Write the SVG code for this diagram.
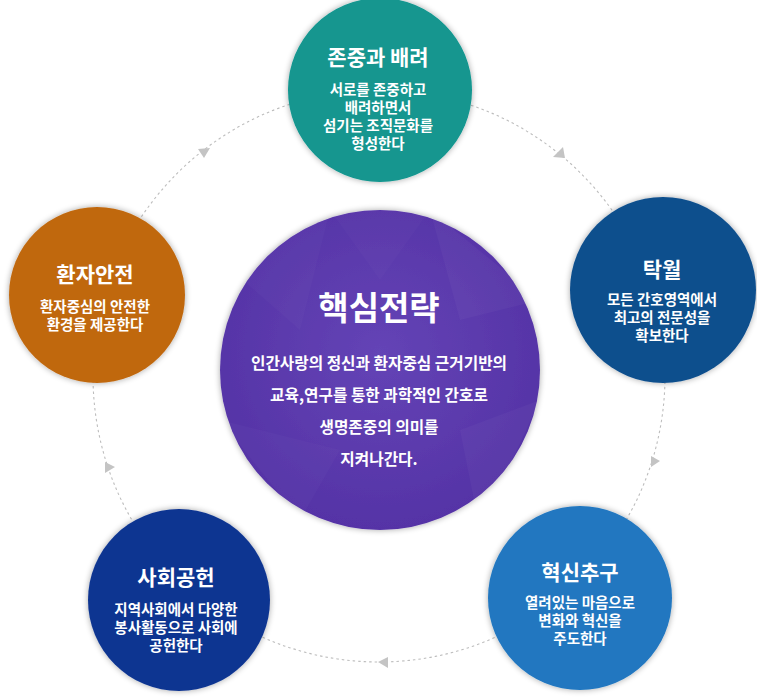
<svg xmlns="http://www.w3.org/2000/svg" width="757" height="699" viewBox="0 0 757 699">
<style>
.t{font-family:"Noto Sans CJK KR","Noto Sans",sans-serif;fill:#fff;text-anchor:middle;dominant-baseline:central}
.h{font-size:21px;font-weight:700}
.b{font-size:14.5px;font-weight:600}
.ch{font-size:33px;font-weight:700}
.cb{font-size:15.7px;font-weight:600}
.ring{fill:none;stroke:#bdbdbd;stroke-width:1.1;stroke-dasharray:2.5 3}
.arr{fill:#c4c4c4}
</style>
<defs>
<filter id="glow" x="-20%" y="-20%" width="140%" height="140%">
<feGaussianBlur in="SourceAlpha" stdDeviation="3"/>
<feComponentTransfer><feFuncA type="linear" slope="0.35"/></feComponentTransfer>
<feMerge><feMergeNode/><feMergeNode in="SourceGraphic"/></feMerge>
</filter>
<radialGradient id="gp" cx="50%" cy="45%" r="55%">
<stop offset="0" stop-color="#6444b6"/>
<stop offset="1" stop-color="#5533a6"/>
</radialGradient>
<clipPath id="cc"><circle cx="380" cy="370" r="160"/></clipPath>
</defs>
<rect width="757" height="699" fill="#fff"/>
<g id="connectors">
<circle class="ring" cx="379" cy="376" r="286"/>
<polygon class="arr" points="198,149 210,148 204,158"/>
<polygon class="arr" points="563,147 553,157 565,158"/>
<polygon class="arr" points="651,456 660,461 651,467"/>
<polygon class="arr" points="378,662 388,657 388,668"/>
<polygon class="arr" points="105,462 115,467 105,473"/>
</g>
<g id="center">
<circle cx="380" cy="370" r="160" fill="url(#gp)" filter="url(#glow)"/>
<g clip-path="url(#cc)" fill="#fff">
<polygon points="220,260 330,210 300,330" opacity="0.025"/>
<polygon points="430,210 540,300 460,320" opacity="0.03"/>
<polygon points="220,420 300,520 340,450" opacity="0.025"/>
<polygon points="460,430 540,400 480,530" opacity="0.03"/>
<polygon points="330,210 430,210 380,280" opacity="0.02"/>
</g>
<text class="t ch" x="379" y="306">핵심전략</text>
<text class="t cb" x="379" y="362">인간사랑의 정신과 환자중심 근거기반의</text>
<text class="t cb" x="379" y="394">교육,연구를 통한 과학적인 간호로</text>
<text class="t cb" x="379" y="426">생명존중의 의미를</text>
<text class="t cb" x="379" y="458">지켜나간다.</text>
</g>
<g id="respect">
<circle cx="380" cy="90" r="92" fill="#12968f" filter="url(#glow)"/>
<text class="t h" x="378" y="56">존중과 배려</text>
<text class="t b" x="378" y="88">서로를 존중하고</text>
<text class="t b" x="378" y="106">배려하면서</text>
<text class="t b" x="378" y="124">섬기는 조직문화를</text>
<text class="t b" x="378" y="142">형성한다</text>
</g>
<g id="safety">
<circle cx="97" cy="295" r="88" fill="#c0680f" filter="url(#glow)"/>
<text class="t h" x="95" y="273">환자안전</text>
<text class="t b" x="95" y="305">환자중심의 안전한</text>
<text class="t b" x="95" y="323">환경을 제공한다</text>
</g>
<g id="excellence">
<circle cx="663" cy="290" r="93" fill="#0f4f8d" filter="url(#glow)"/>
<text class="t h" x="662" y="268">탁월</text>
<text class="t b" x="662" y="298">모든 간호영역에서</text>
<text class="t b" x="662" y="316">최고의 전문성을</text>
<text class="t b" x="662" y="334">확보한다</text>
</g>
<g id="innovation">
<circle cx="580" cy="598" r="92" fill="#2177c0" filter="url(#glow)"/>
<text class="t h" x="580" y="571">혁신추구</text>
<text class="t b" x="580" y="601">열려있는 마음으로</text>
<text class="t b" x="580" y="619">변화와 혁신을</text>
<text class="t b" x="580" y="637">주도한다</text>
</g>
<g id="contribution">
<circle cx="179" cy="600" r="91" fill="#0e3591" filter="url(#glow)"/>
<text class="t h" x="176" y="576">사회공헌</text>
<text class="t b" x="176" y="608">지역사회에서 다양한</text>
<text class="t b" x="176" y="626">봉사활동으로 사회에</text>
<text class="t b" x="176" y="644">공헌한다</text>
</g>
</svg>
